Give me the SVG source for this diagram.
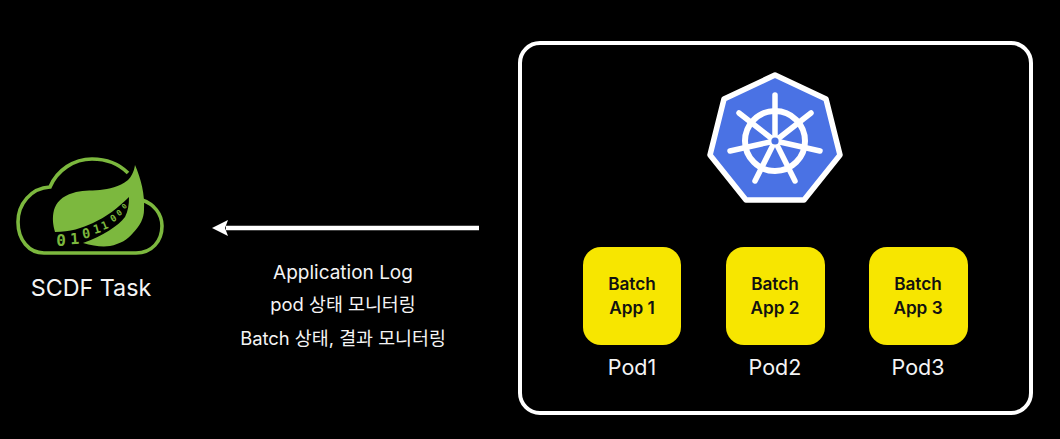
<svg xmlns="http://www.w3.org/2000/svg" width="1060" height="439" viewBox="0 0 1060 439">
<style>
text{font-family:"Inter","Noto Sans CJK KR",sans-serif;text-anchor:middle}
.lab{fill:#f4f4f4;font-size:19px}
.pod{fill:#f4f4f4;font-size:21.5px}
.box{fill:#f7e600}
.app{fill:#111;font-size:17.2px;font-weight:600}
.bin{fill:#7cb83e;font-weight:700;font-family:"DejaVu Sans Mono","Liberation Mono",monospace}
.spoke{stroke:#fff;stroke-width:5.5;stroke-linecap:round;fill:none}
</style>
<defs>
<marker id="head" viewBox="0 0 16 16" refX="2" refY="8" markerWidth="16" markerHeight="16" markerUnits="userSpaceOnUse" orient="auto"><path d="M0 0L16 8L0 16L3 8Z" fill="#fff"/></marker>
</defs>
<rect width="1060" height="439" fill="#000"/>
<g id="scdf">
<path d="M128 173C119 164 106 159 92 159C74 159 57 170 50 187C31 188 18 204 18 222C18 240 29 253 44 253H136C152 253 162 241 162 226C162 214 154 204 142 200" fill="none" stroke="#7cb83e" stroke-width="3.6"/>
<path d="M135 165C134 172 131 177 128 180C119 187 109 189 100 190C90 191 81 190 73 193C62 196 56 203 54 210C52 218 53 225 55 232C70 232 82 228 93 223C106 217 118 208 129 197C129 205 128 211 125 217C118 226 103 236 83 243C93 246 102 247 110 246C120 244 127 240 133 233C140 226 144 218 144 210C145 194 141 179 135 165Z" fill="#7cb83e"/>
<text class="bin" font-size="16" x="61" y="246">0</text>
<text class="bin" font-size="15" x="75" y="244" transform="rotate(-4 75 244)">1</text>
<text class="bin" font-size="13.5" x="87" y="238" transform="rotate(-10 87 238)">0</text>
<text class="bin" font-size="12" x="98" y="233" transform="rotate(-16 98 233)">1</text>
<text class="bin" font-size="11" x="106" y="229" transform="rotate(-22 106 229)">1</text>
<text class="bin" font-size="9.5" x="115" y="221" transform="rotate(-30 115 221)">0</text>
<text class="bin" font-size="8" x="121" y="215" transform="rotate(-38 121 215)">0</text>
<text class="bin" font-size="7" x="126" y="208" transform="rotate(-45 126 208)">0</text>
<text x="91" y="296" fill="#f4f4f4" font-size="23.3">SCDF Task</text>
</g>
<g id="cluster"><rect x="520" y="43" width="511" height="370" rx="20" fill="none" stroke="#fff" stroke-width="4"/></g>
<g id="k8s">
<path d="M775 75L826 99L840 155L804 200H746L710 155L724 99Z" fill="#4a72e4" stroke="#fff" stroke-width="5.5" stroke-linejoin="round"/>
<circle cx="775" cy="141" r="30" fill="none" stroke="#fff" stroke-width="6"/>
<g class="spoke">
<path d="M775 136V95"/>
<path d="M779 138L811 113"/>
<path d="M780 142L820 151"/>
<path d="M777 145L795 181"/>
<path d="M773 145L755 181"/>
<path d="M770 142L730 151"/>
<path d="M771 138L739 113"/>
</g>
<circle cx="775" cy="141" r="6" fill="#fff"/>
<circle cx="775" cy="141" r="3.6" fill="#4a72e4"/>
</g>
<g id="pod1"><rect class="box" x="583" y="247" width="98" height="98" rx="18"/><text class="app" x="632" y="290">Batch</text><text class="app" x="632" y="314">App 1</text><text class="pod" x="632" y="375">Pod1</text></g>
<g id="pod2"><rect class="box" x="726" y="247" width="99" height="98" rx="18"/><text class="app" x="775" y="290">Batch</text><text class="app" x="775" y="314">App 2</text><text class="pod" x="775" y="375">Pod2</text></g>
<g id="pod3"><rect class="box" x="869" y="247" width="99" height="98" rx="18"/><text class="app" x="918" y="290">Batch</text><text class="app" x="918" y="314">App 3</text><text class="pod" x="918" y="375">Pod3</text></g>
<g id="connectors"><path d="M479 228H226" stroke="#fff" stroke-width="4.5" fill="none" marker-end="url(#head)"/></g>
<g id="labels">
<text class="lab" x="343" y="279">Application Log</text>
<text class="lab" x="343" y="311" style="font-size:18.4px">pod 상태 모니터링</text>
<text class="lab" x="343" y="345" style="font-size:18.4px">Batch 상태, 결과 모니터링</text>
</g>
</svg>
